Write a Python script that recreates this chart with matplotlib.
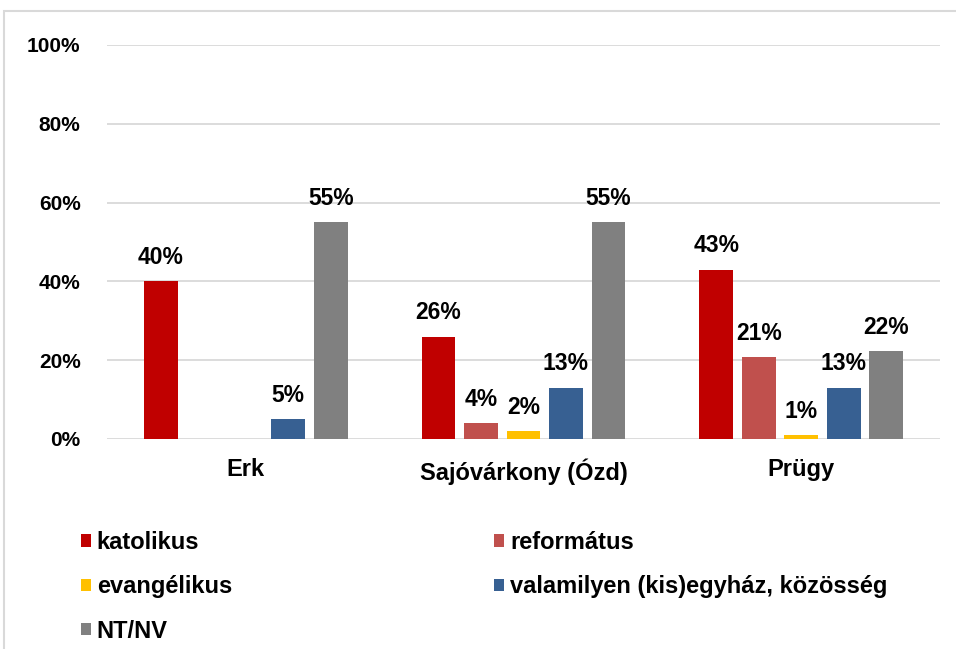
import numpy as np
import matplotlib
matplotlib.use("Agg")
import matplotlib.pyplot as plt
from matplotlib.patches import Rectangle

plt.rcParams['font.family'] = ['Liberation Sans', 'DejaVu Sans']
plt.rcParams['font.weight'] = 'bold'

# data (percent)
places = ["Erk", "Sajóvárkony (Ózd)", "Prügy"]
series = ["katolikus", "református", "evangélikus",
          "valamilyen (kis)egyház, közösség", "NT/NV"]
katolikus = [40, 26, 43]
reformatus = [0, 4, 20.7]
evangelikus = [0, 2, 0.9]
valamilyen = [5, 13, 13]
ntnv = [55, 55, 22.3]
colors = ["#C00000", "#C0504D", "#FFC000", "#376092", "#808080"]

values = [katolikus, reformatus, evangelikus, valamilyen, ntnv]

fig = plt.figure(figsize=(9.56, 6.49), dpi=100)
W, H = 956, 649
ax = fig.add_axes([107 / W, (H - 439) / H, (940 - 107) / W, (439 - 45) / H])

# outer chart frame (light grey)
fig.patches.append(Rectangle((4 / W, -0.05), 1.1, (H - 11) / H + 0.05,
                             transform=fig.transFigure, fill=False,
                             edgecolor="#D9D9D9", linewidth=1.5))

x = np.arange(len(places))
step = 0.153
width = 0.122
handles = []
for i, (name, vals) in enumerate(zip(series, values)):
    bars = ax.bar(x + (i - 2) * step, vals, width, color=colors[i], label=name, zorder=3)
    handles.append(bars)
    labels = [f"{v:.0f}%" if v > 0 else "" for v in vals]
    ax.bar_label(bars, labels=labels, padding=9, fontsize=16.5, fontweight='bold')

ax.set_xlim(-0.5, 2.5)
ax.set_ylim(0, 100)
ax.set_yticks(range(0, 101, 20))
ax.set_yticklabels([f"{v}%" for v in range(0, 101, 20)])
ax.set_xticks(x)
ax.set_xticklabels(places)
ax.tick_params(axis='both', length=0)
ax.tick_params(axis='y', pad=19, labelsize=15)
ax.tick_params(axis='x', pad=14, labelsize=17)
ax.grid(axis='y', color="#D9D9D9", linewidth=1.3, zorder=0)
for s in ax.spines.values():
    s.set_visible(False)

# row-wise legend order like the original
order = [0, 2, 4, 1, 3]
fig.legend([handles[k] for k in order], [series[k] for k in order],
           loc='upper left', bbox_to_anchor=(81 / W, (H - 531) / H), ncol=2,
           frameon=False, fontsize=17, handlelength=0.42, handleheight=0.42,
           handletextpad=0.25, columnspacing=11.1, labelspacing=0.9,
           borderpad=0, borderaxespad=0)

fig.savefig("out.png", dpi=100)
